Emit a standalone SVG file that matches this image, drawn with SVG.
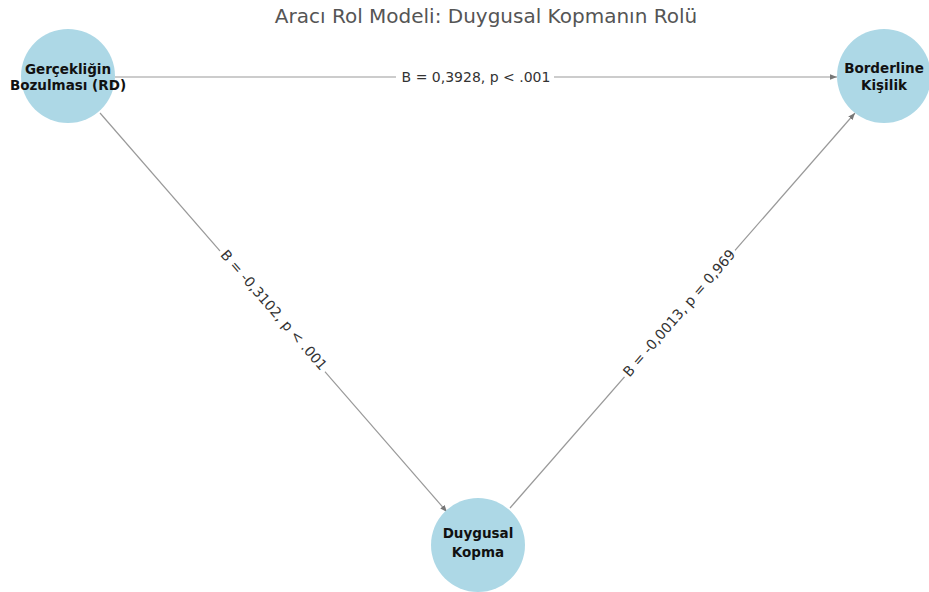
<svg xmlns="http://www.w3.org/2000/svg" width="929" height="592" viewBox="0 0 929 592">
<style>
.node{fill:#ADD8E6}
.nl{font-family:"DejaVu Sans",sans-serif;font-size:13.5px;font-weight:bold;fill:#111;text-anchor:middle}
.edge{stroke:#999;stroke-width:1.2;fill:none}
.el{font-family:"DejaVu Sans",sans-serif;font-size:14px;fill:#333;text-anchor:middle}
.bg{fill:#fff}
.title{font-family:"DejaVu Sans",sans-serif;font-size:20px;fill:#555;text-anchor:middle}
</style>
<defs>
<marker id="ah" viewBox="0 0 10 10" refX="10" refY="5" markerWidth="7" markerHeight="7" orient="auto" markerUnits="userSpaceOnUse">
<path d="M0,1 L10,5 L0,9 z" fill="#777"/>
</marker>
</defs>
<rect width="929" height="592" fill="#fff"/>
<text class="title" x="486" y="23">Aracı Rol Modeli: Duygusal Kopmanın Rolü</text>
<g id="connectors">
<line class="edge" x1="115" y1="77" x2="837" y2="77" marker-end="url(#ah)"/>
<line class="edge" x1="100" y1="113" x2="447" y2="512" marker-end="url(#ah)"/>
<line class="edge" x1="510" y1="508" x2="855" y2="113" marker-end="url(#ah)"/>
<g>
<rect class="bg" x="396" y="68" width="158" height="18"/>
<text class="el" x="476" y="82">B = 0,3928, p &lt; .001</text>
</g>
<g transform="translate(274,310) rotate(49)">
<rect class="bg" x="-80" y="-9" width="160" height="18"/>
<text class="el" x="0" y="5">B = -0,3102, p &lt; .001</text>
</g>
<g transform="translate(679,313) rotate(-49)">
<rect class="bg" x="-84" y="-9" width="168" height="18"/>
<text class="el" x="0" y="5">B = -0,0013, p = 0,969</text>
</g>
</g>
<g id="node-rd">
<circle class="node" cx="68" cy="76" r="47"/>
<text class="nl" x="68" y="74">Gerçekliğin</text>
<text class="nl" x="68" y="90">Bozulması (RD)</text>
</g>
<g id="node-bp">
<circle class="node" cx="884" cy="76" r="47"/>
<text class="nl" x="884" y="73">Borderline</text>
<text class="nl" x="884" y="90">Kişilik</text>
</g>
<g id="node-dk">
<circle class="node" cx="478" cy="545" r="47"/>
<text class="nl" x="478" y="538">Duygusal</text>
<text class="nl" x="478" y="557">Kopma</text>
</g>
</svg>
